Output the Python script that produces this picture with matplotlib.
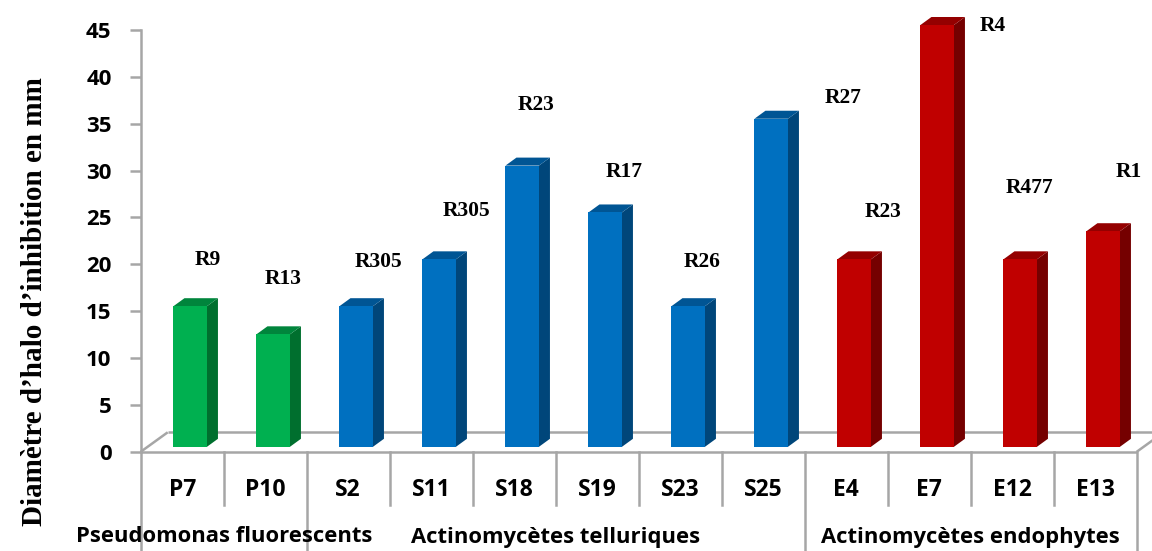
import matplotlib
matplotlib.use("Agg")
import matplotlib.pyplot as plt
from matplotlib.patches import Polygon

# Data
strains = ["P7", "P10", "S2", "S11", "S18", "S19", "S23", "S25",
           "E4", "E7", "E12", "E13"]
halo_mm = [15, 12, 15, 20, 30, 25, 15, 35, 20, 45, 20, 23]
groups = ["Pseudomonas fluorescents", "Actinomycètes telluriques",
          "Actinomycètes endophytes"]
group_sizes = [2, 6, 4]
target_labels = ["R9", "R13", "R305", "R305", "R23", "R17", "R26",
                 "R27", "R23", "R4", "R477", "R1"]
y_ticks = [0, 5, 10, 15, 20, 25, 30, 35, 40, 45]

# Placement of the free-floating target labels (x in category units, y in mm)
target_pos = [(0.31, 20.5), (1.21, 18.4), (2.36, 20.2), (3.42, 25.7),
              (4.26, 37.0), (5.33, 29.9), (6.27, 20.2), (7.96, 37.7),
              (8.44, 25.6), (9.77, 45.4), (10.21, 28.1), (11.40, 29.9)]

palette = {
    0: ("#00B050", "#006F2E", "#00853C"),
    1: ("#0070C0", "#00467A", "#005594"),
    2: ("#C00000", "#750000", "#940000"),
}

W, H = 1152, 551
fig = plt.figure(figsize=(W / 100, H / 100), dpi=100)
left_px, right_px, top_px, bot_px = 140.7, 1136.7, 30.0, 451.8
ax = fig.add_axes([left_px / W, 1 - bot_px / H,
                   (right_px - left_px) / W, (bot_px - top_px) / H])
n = len(strains)
ax.set_xlim(-0.5, n - 0.5)
ax.set_ylim(0, 45)

px_x = (right_px - left_px) / n          # pixels per category
px_y = (bot_px - top_px) / 45.0          # pixels per mm

def dx(p):
    return p / px_x

def dy(p):
    return p / px_y

grey = "#A6A6A6"

# Floor of the 3-D box
fdx, fdy = dx(27), dy(19.5)
floor_kw = dict(color=grey, lw=1.8, clip_on=False, zorder=1,
                solid_capstyle="butt")
ax.plot([-0.5, n - 0.5], [0, 0], **floor_kw)
ax.plot([-0.5, -0.5 + fdx], [0, fdy], **floor_kw)
ax.plot([-0.5 + fdx, n - 0.5 + fdx], [fdy, fdy], **floor_kw)
ax.plot([n - 0.5, n - 0.5 + fdx], [0, fdy], **floor_kw)

# Bars drawn as front, side and top faces
bar_w = dx(33.5)
off_x, base = dx(8), dy(5)
sdx, sdy = dx(11), dy(8)
gidx = []
for g, s in enumerate(group_sizes):
    gidx += [g] * s
for i, v in enumerate(halo_mm):
    front, side, top = palette[gidx[i]]
    x0 = i + off_x - bar_w / 2
    x1 = x0 + bar_w
    y0, y1 = base, base + v
    ax.add_patch(Polygon([(x1, y0), (x1 + sdx, y0 + sdy), (x1 + sdx, y1 + sdy),
                          (x1, y1)], closed=True, fc=side, ec="none",
                         clip_on=False, zorder=3))
    ax.add_patch(Polygon([(x0, y1), (x1, y1), (x1 + sdx, y1 + sdy),
                          (x0 + sdx, y1 + sdy)], closed=True, fc=top,
                         ec="none", clip_on=False, zorder=3))
    ax.add_patch(Polygon([(x0, y0), (x1, y0), (x1, y1), (x0, y1)], closed=True,
                         fc=front, ec="none", clip_on=False, zorder=4))

# Value axis
for sp in ["top", "right", "bottom"]:
    ax.spines[sp].set_visible(False)
ax.spines["left"].set_color(grey)
ax.spines["left"].set_linewidth(1.8)
ax.set_yticks(y_ticks)
ax.tick_params(axis="y", direction="out", length=8, width=1.8, color=grey,
               pad=13, labelsize=16)
for lab in ax.get_yticklabels():
    lab.set_fontfamily("Open Sans")
    lab.set_fontweight("bold")
ax.set_xticks([])

# Category table below the floor
line_kw = dict(color=grey, lw=1.8, clip_on=False, zorder=1)
y_short, y_long = -dy(505 - bot_px), -dy(H - bot_px + 2)
bounds = [-0.5]
for s in group_sizes:
    bounds.append(bounds[-1] + s)
for k in range(n + 1):
    xb = k - 0.5
    yb = y_long if xb in bounds else y_short
    ax.plot([xb, xb], [0, yb], **line_kw)

for i, name in enumerate(strains):
    ax.text(i, -dy(490 - bot_px), name, ha="center", va="center",
            clip_on=False, family="Open Sans", weight="bold", size=16.5)
for g, name in enumerate(groups):
    xc = (bounds[g] + bounds[g + 1]) / 2
    ax.text(xc, -dy(537 - bot_px), name, ha="center", va="center",
            clip_on=False, family="Open Sans", weight="bold", size=15.8)

# Target labels
for txt, (x, y) in zip(target_labels, target_pos):
    ax.text(x, y, txt, ha="center", va="center", family="Liberation Serif",
            weight="bold", size=15.5, clip_on=False, zorder=6)

fig.text(35 / W, 1 - 302 / H, "Diamètre d’halo d’inhibition en mm",
         rotation=90, ha="center", va="center", family="Liberation Serif",
         weight="bold", size=21)

fig.savefig("out.png", dpi=100)
